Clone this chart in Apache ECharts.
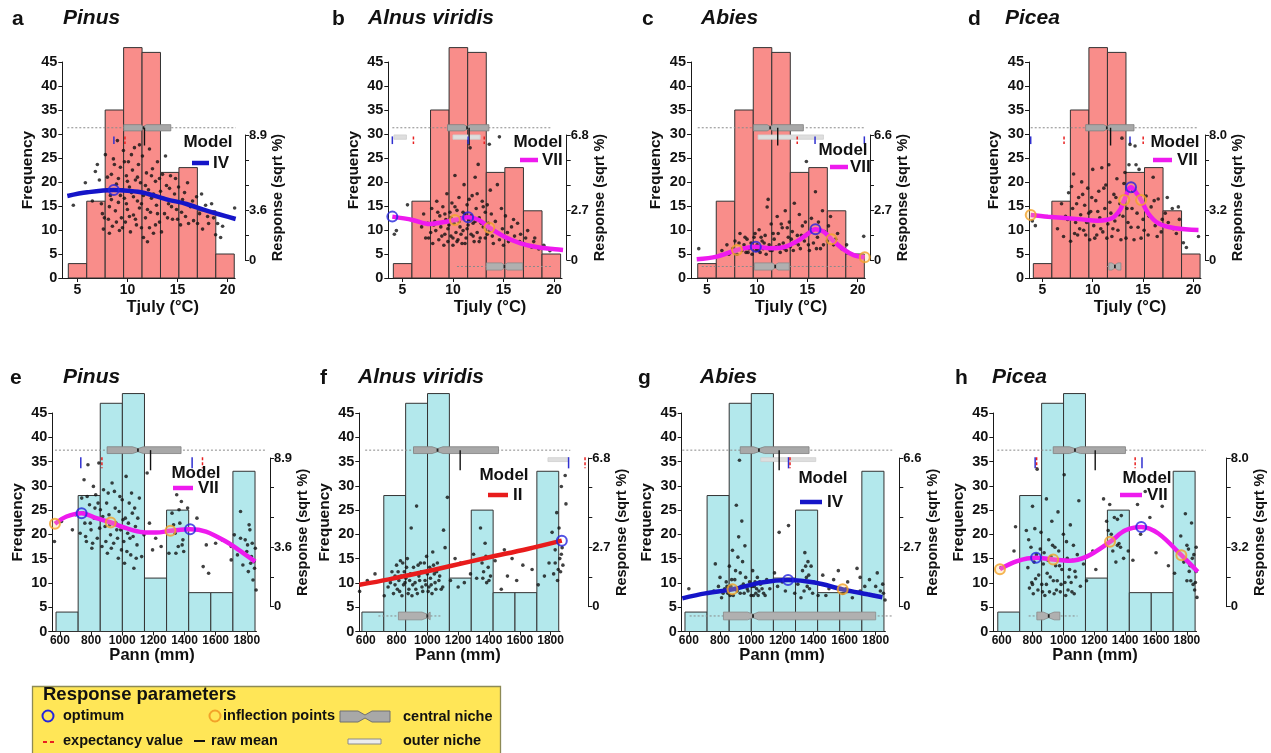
<!DOCTYPE html>
<html><head><meta charset="utf-8">
<script src="https://cdn.jsdelivr.net/npm/echarts@6/dist/echarts.min.js"></script>
<style>html,body{margin:0;padding:0;background:#fff;}#c{width:1271px;height:753px;}</style>
</head><body><div id="c"></div>
<script>
// ================= DATA =================
const tjulyEdges = [4.1, 5.94, 7.78, 9.62, 11.46, 13.3, 15.14, 16.98, 18.82, 20.66];
const tjulyCounts = [3, 16, 35, 48, 47, 22, 23, 14, 5];
const pannEdges = [575, 717, 859, 1001, 1143, 1285, 1427, 1569, 1711, 1853];
const pannCounts = [4, 28, 47, 49, 11, 25, 8, 8, 33];
const tjulyTicks = [5, 10, 15, 20];
const pannTicks = [600, 800, 1000, 1200, 1400, 1600, 1800];
const panelLetters = ['a','b','c','d','e','f','g','h'];
const taxa = ['Pinus','Alnus viridis','Abies','Picea','Pinus','Alnus viridis','Abies','Picea'];
const xNames = ['Tjuly (°C)','Pann (mm)'];
const respMax = [8.9, 6.8, 6.6, 8.0, 8.9, 6.8, 6.6, 8.0];
const respLabels = [['0','3.6','8.9'],['0','2.7','6.8'],['0','2.7','6.6'],['0','3.2','8.0'],['0','3.6','8.9'],['0','2.7','6.8'],['0','2.7','6.6'],['0','3.2','8.0']];
const modelTypes = ['IV','VII','VII','VII','VII','II','IV','VII'];

// observed samples (x, response in sqrt %)
const scatterA = [[4.6,3.9],[5.8,5.5],[6.5,4.2],[6.8,6.3],[7.0,6.8],[7.2,5.7],[7.4,4.0],[7.5,3.3],[7.6,2.2],[7.8,7.5],[7.9,5.0],[8.1,2.9],[8.2,3.8],[8.3,4.6],[8.4,6.1],[8.5,2.4],[8.6,7.2],[8.8,3.5],[8.9,5.4],[9.0,8.5],[9.1,4.1],[9.2,2.1],[9.3,6.6],[9.4,3.0],[9.5,5.0],[9.6,7.8],[9.7,4.4],[9.8,2.7],[9.9,6.0],[10.0,3.6],[10.1,7.0],[10.2,5.2],[10.3,2.0],[10.4,4.8],[10.5,6.4],[10.6,3.2],[10.7,8.0],[10.8,5.7],[10.9,2.5],[11.0,4.2],[11.1,6.8],[11.2,3.7],[11.3,5.5],[11.4,2.3],[11.5,7.4],[11.6,4.6],[11.8,3.0],[11.9,6.2],[12.0,1.3],[12.1,5.0],[12.2,7.9],[12.3,3.4],[12.4,4.4],[12.5,6.5],[12.6,1.9],[12.8,5.6],[12.9,3.9],[13.0,7.0],[13.2,2.7],[13.3,4.9],[13.5,6.1],[13.7,3.3],[13.9,5.3],[14.1,4.0],[14.3,6.0],[14.5,2.9],[14.7,4.7],[14.9,3.6],[15.1,5.2],[15.3,2.5],[15.5,4.3],[15.8,3.1],[16.0,5.5],[16.3,3.8],[16.6,2.8],[16.9,4.5],[17.2,3.3],[17.5,2.2],[17.8,3.9],[18.1,2.6],[18.4,4.0],[18.8,1.8],[19.0,2.6],[19.3,1.6],[20.7,3.7],
  [7.7,3.0],[8.0,5.9],[8.2,1.9],[8.4,4.3],[8.7,6.8],[8.9,2.7],[9.1,5.8],[9.3,4.6],[9.5,2.3],[9.7,7.0],[9.9,4.0],[10.0,5.6],[10.2,3.1],[10.4,7.5],[10.6,4.5],[10.8,2.9],[11.0,5.9],[11.2,8.2],[11.4,4.0],[11.6,1.6],[11.8,5.3],[12.0,3.6],[12.2,2.3],[12.4,6.0],[12.6,4.7],[12.8,2.5],[13.0,3.3],[13.2,5.8],[13.4,2.0],[13.6,4.4],[13.8,7.4],[14.0,3.0],[14.2,5.1],[14.4,3.8],[14.8,5.8],[15.0,2.9],[15.4,3.4],[15.7,4.8],[16.1,2.6],[16.5,4.2],[17.0,2.6],[17.4,4.7],[18.0,3.1],[18.6,3.0],[19.5,2.4]];
const scatterB = [[4.2,1.4],[4.4,1.6],[5.5,3.0],[6.9,1.8],[7.1,2.5],[7.3,1.2],[7.5,2.0],[7.8,1.5],[7.9,2.8],[8.0,0.9],[8.2,2.1],[8.3,1.6],[8.4,3.2],[8.6,1.1],[8.7,2.4],[8.8,1.8],[9.0,2.9],[9.1,0.8],[9.2,1.4],[9.3,2.2],[9.4,3.6],[9.5,1.0],[9.6,1.9],[9.7,2.6],[9.8,1.3],[9.9,3.1],[10.0,0.8],[10.1,2.0],[10.2,4.6],[10.3,1.5],[10.4,2.7],[10.5,1.1],[10.6,3.4],[10.7,1.8],[10.8,2.3],[10.9,0.9],[11.0,1.6],[11.1,4.1],[11.2,2.5],[11.3,1.2],[11.4,3.0],[11.5,1.9],[11.6,2.2],[11.7,6.1],[11.8,1.4],[11.9,3.5],[12.0,2.0],[12.1,1.0],[12.2,4.5],[12.3,2.8],[12.4,1.5],[12.5,5.2],[12.6,2.3],[12.7,1.2],[12.9,3.2],[13.0,1.8],[13.2,2.6],[13.4,1.4],[13.5,2.0],[13.6,6.3],[13.7,3.8],[13.9,1.3],[14.2,2.1],[14.4,4.1],[14.6,1.1],[14.6,6.7],[14.9,1.7],[15.2,2.4],[15.5,1.0],[15.8,1.8],[16.1,1.3],[16.4,2.0],[16.7,1.4],[17.0,0.9],[17.4,1.6],[17.8,0.7],[18.1,1.2],[18.5,0.6],[19.0,0.8],[19.6,0.5],
  [7.6,1.2],[8.1,1.9],[8.5,2.6],[8.9,1.3],[9.2,2.5],[9.5,1.7],[9.8,2.3],[10.0,1.2],[10.2,2.9],[10.4,1.0],[10.6,2.1],[10.8,1.4],[11.0,2.6],[11.2,0.9],[11.4,1.7],[11.6,3.3],[11.8,2.4],[12.0,1.3],[12.2,2.1],[12.4,3.6],[12.6,1.0],[12.8,2.0],[13.0,2.9],[13.2,1.2],[13.4,3.0],[13.6,1.6],[13.8,2.5],[14.0,0.9],[14.4,1.5],[14.8,2.8],[15.0,0.8],[15.4,1.5],[16.0,2.2],[16.6,1.0],[17.2,1.2],[18.0,1.0]];
const scatterC = [[4.2,0.6],[6.5,0.5],[7.0,0.8],[7.2,0.3],[7.6,0.6],[7.8,1.0],[8.0,0.3],[8.2,0.9],[8.3,1.4],[8.5,0.5],[8.7,0.8],[8.9,0.4],[9.0,1.1],[9.2,0.6],[9.4,0.9],[9.5,0.3],[9.7,1.2],[9.9,0.5],[10.0,0.8],[10.2,1.6],[10.3,0.4],[10.5,1.0],[10.6,0.6],[10.8,1.3],[10.9,0.3],[11.0,2.8],[11.1,3.2],[11.2,0.8],[11.4,1.9],[11.5,0.5],[11.7,1.1],[11.9,0.7],[12.0,2.3],[12.1,1.4],[12.3,0.4],[12.5,1.7],[12.6,0.9],[12.8,2.6],[12.9,0.5],[13.1,1.2],[13.2,2.0],[13.3,0.7],[13.5,1.5],[13.7,3.0],[13.8,0.9],[14.0,1.3],[14.2,2.4],[14.3,0.6],[14.5,1.8],[14.7,1.0],[14.9,5.2],[15.0,1.4],[15.2,0.5],[15.4,2.2],[15.6,0.9],[15.8,3.6],[16.0,1.2],[16.1,2.0],[16.3,0.6],[16.5,2.6],[16.7,1.5],[17.0,1.0],[17.3,2.3],[17.6,0.8],[18.0,1.4],[18.4,0.6],[18.9,0.8],[20.6,1.25],
  [8.4,0.6],[8.8,1.2],[9.1,0.4],[9.6,0.7],[9.8,1.4],[10.1,0.5],[10.4,1.2],[10.7,0.9],[11.3,0.5],[11.6,1.4],[12.2,0.8],[12.4,1.9],[12.7,0.6],[13.0,1.7],[13.4,1.1],[13.6,0.5],[14.1,0.8],[14.4,1.3],[14.8,2.0],[15.1,0.8],[15.5,1.6],[15.9,0.6],[16.2,1.6],[16.6,0.8],[17.1,1.8],[17.8,1.1]];
const scatterD = [[4.0,2.5],[4.3,2.2],[6.5,2.0],[6.9,3.6],[7.1,1.5],[7.3,2.8],[7.6,4.3],[7.8,1.2],[8.0,3.3],[8.1,5.5],[8.3,2.4],[8.5,1.6],[8.6,4.0],[8.8,2.9],[8.9,5.0],[9.1,1.9],[9.2,3.5],[9.4,2.4],[9.5,4.6],[9.7,1.3],[9.8,3.1],[10.0,5.8],[10.1,2.2],[10.3,3.8],[10.4,1.6],[10.6,4.4],[10.7,2.7],[10.9,5.9],[11.0,1.8],[11.2,3.3],[11.3,4.8],[11.5,2.3],[11.6,6.1],[11.8,3.0],[11.9,1.5],[12.1,4.2],[12.2,2.5],[12.4,5.2],[12.5,1.9],[12.7,3.6],[12.9,7.8],[13.0,2.8],[13.1,4.9],[13.3,1.4],[13.4,3.3],[13.6,6.1],[13.7,7.4],[13.8,2.1],[14.0,4.4],[14.1,1.3],[14.2,7.3],[14.4,3.0],[14.6,5.8],[14.8,1.4],[15.0,2.6],[15.3,4.1],[15.5,1.6],[15.8,3.4],[16.0,5.3],[16.2,2.2],[16.5,3.9],[16.8,1.8],[17.2,3.0],[17.5,2.4],[17.9,3.3],[18.3,1.7],[18.6,2.6],[19.0,1.1],[19.3,0.8],[20.5,1.5],
  [7.5,2.6],[7.9,4.7],[8.2,1.7],[8.4,3.6],[8.7,2.0],[9.0,4.2],[9.3,1.6],[9.6,3.0],[9.9,4.0],[10.2,1.4],[10.5,3.1],[10.8,2.0],[11.1,4.6],[11.4,1.4],[11.7,3.7],[12.0,2.0],[12.3,4.0],[12.6,2.9],[12.8,1.3],[13.2,5.6],[13.5,2.4],[13.9,3.3],[14.3,6.1],[14.5,2.1],[14.7,4.0],[15.1,1.9],[15.6,2.8],[16.1,3.8],[16.4,1.5],[16.9,2.6],[17.4,4.0],[18.0,2.0],[18.5,3.4]];
const scatterE = [[565,3.9],[610,5.1],[680,4.6],[700,5.5],[730,4.4],[740,6.5],[755,7.6],[760,5.0],[770,3.9],[780,8.5],[790,6.1],[800,4.6],[805,3.5],[815,7.2],[820,5.3],[830,6.7],[840,4.1],[850,8.6],[860,5.8],[870,3.6],[880,7.0],[890,4.8],[900,6.2],[905,3.2],[915,5.5],[925,4.3],[935,7.4],[945,3.8],[955,5.9],[965,4.6],[975,2.9],[985,6.6],[995,3.4],[1005,5.2],[1015,2.6],[1025,7.8],[1035,4.4],[1045,6.2],[1055,3.1],[1065,5.6],[1075,2.3],[1085,4.8],[1095,3.7],[1110,6.5],[1125,3.0],[1140,4.3],[1160,8.0],[1175,5.0],[1195,3.4],[1215,4.1],[1250,3.6],[1300,3.2],[1320,5.6],[1340,4.4],[1350,6.7],[1360,3.6],[1370,5.0],[1380,6.3],[1390,4.0],[1395,3.3],[1420,5.9],[1480,5.3],[1520,2.4],[1540,3.7],[1555,2.0],[1600,3.8],[1640,4.0],[1700,2.8],[1720,4.3],[1740,3.1],[1760,5.7],[1775,2.5],[1790,4.0],[1800,3.3],[1810,2.1],[1820,4.6],[1830,3.0],[1840,1.6],[1845,2.7],[1855,3.5],[1860,1.0],
  [750,5.6],[765,4.2],[775,6.6],[795,5.0],[810,3.8],[825,5.9],[845,6.2],[855,4.7],[875,5.4],[895,3.9],[910,6.8],[920,4.9],[930,3.5],[950,6.9],[960,5.0],[970,4.1],[980,5.7],[990,4.6],[1000,6.4],[1010,3.9],[1020,5.3],[1030,3.3],[1040,5.0],[1050,4.1],[1060,6.8],[1070,4.2],[1080,5.9],[1090,2.9],[1100,5.3],[1330,4.9],[1345,3.2],[1365,5.8],[1385,3.7],[1805,3.7],[1815,4.9],[1825,2.6],[1835,3.8],[1850,2.3],[1760,4.1],[1700,3.6]];
const scatterF = [[560,0.7],[610,1.2],[660,1.5],[720,0.5],[745,0.9],[760,1.1],[770,1.6],[780,0.6],[790,1.4],[800,1.9],[805,0.8],[815,1.2],[825,2.1],[835,0.5],[845,1.0],[850,1.6],[860,1.3],[870,2.2],[880,0.8],[890,1.5],[895,3.6],[900,0.5],[910,1.8],[920,1.1],[930,4.6],[935,0.6],[945,1.4],[955,2.0],[965,0.9],[975,1.6],[985,1.2],[995,2.3],[1005,0.7],[1015,1.8],[1025,1.0],[1035,2.5],[1045,1.5],[1055,0.8],[1065,2.0],[1075,1.2],[1090,0.8],[1105,3.5],[1115,2.7],[1130,5.0],[1150,1.2],[1180,2.2],[1200,0.9],[1215,2.0],[1240,1.1],[1280,1.5],[1300,2.4],[1320,1.3],[1345,3.6],[1355,2.0],[1365,1.6],[1375,2.9],[1385,1.1],[1395,1.8],[1410,1.4],[1440,2.1],[1480,0.8],[1500,2.6],[1520,1.4],[1550,2.2],[1580,1.2],[1620,1.9],[1680,1.7],[1720,1.0],[1760,1.4],[1790,2.0],[1810,3.4],[1820,1.5],[1830,2.6],[1840,4.3],[1845,1.2],[1850,3.0],[1860,2.2],[1865,1.6],[1870,5.5],[1875,2.7],[1880,1.9],[1895,6.0],[1900,4.7],
  [790,1.0],[810,1.6],[820,0.7],[830,1.4],[840,2.0],[855,1.1],[865,1.8],[875,0.6],[885,1.2],[905,1.0],[915,1.5],[925,0.8],[940,1.9],[950,1.2],[960,1.6],[970,0.7],[980,2.0],[990,1.0],[1000,1.5],[1010,0.9],[1020,1.3],[1030,0.6],[1040,1.9],[1050,1.1],[1060,1.6],[1080,1.4],[1100,0.9],[1360,1.3],[1380,2.3],[1400,1.2],[1830,2.0],[1850,1.7],[1855,3.6],[1870,2.4]];
const scatterG = [[600,0.8],[760,0.7],[770,1.9],[790,0.9],[800,1.3],[810,0.4],[830,0.8],[840,1.1],[850,0.6],[860,1.8],[870,0.9],[880,2.5],[885,0.5],[895,1.2],[905,4.5],[910,0.7],[915,2.2],[920,3.1],[925,6.5],[930,1.5],[935,0.9],[940,3.8],[945,2.0],[955,0.6],[965,1.3],[975,0.8],[990,1.1],[1000,0.5],[1010,1.6],[1020,0.9],[1030,0.6],[1040,1.3],[1050,0.7],[1060,1.0],[1080,0.6],[1100,1.2],[1120,0.8],[1150,1.5],[1170,0.9],[1180,3.3],[1200,1.1],[1220,0.7],[1240,3.6],[1260,1.2],[1280,0.6],[1300,1.0],[1320,0.4],[1330,1.6],[1345,2.4],[1355,1.3],[1365,2.0],[1375,0.8],[1385,1.8],[1400,1.1],[1430,0.5],[1460,1.4],[1500,0.8],[1530,1.2],[1560,1.6],[1590,0.6],[1620,1.1],[1650,0.4],[1680,1.7],[1700,0.7],[1730,0.9],[1760,1.2],[1790,0.5],[1810,1.5],[1830,0.7],[1845,1.0],[1860,0.3],
  [820,0.6],[845,0.9],[865,0.5],[875,1.2],[890,0.8],[900,1.6],[930,0.6],[950,1.0],[960,2.7],[980,0.7],[1005,0.9],[1015,0.5],[1025,1.1],[1035,0.8],[1045,0.5],[1055,1.1],[1070,0.8],[1090,0.5],[1340,0.7],[1350,1.8],[1360,0.9],[1370,1.4],[1395,0.6],[1440,1.0],[1480,0.5],[1610,0.8],[1700,1.3],[1800,0.9],[1850,0.6]];
const scatterH = [[595,2.1],[680,3.0],[690,4.3],[760,4.1],[770,2.1],[780,1.0],[790,3.2],[795,1.3],[800,5.4],[805,0.7],[810,2.4],[820,1.5],[830,7.4],[835,0.9],[850,3.1],[860,1.2],[870,2.3],[880,0.6],[890,5.8],[895,1.8],[905,3.6],[910,0.8],[920,2.7],[925,4.6],[935,1.4],[945,3.2],[955,0.9],[965,5.1],[975,2.2],[985,1.2],[1000,3.9],[1005,7.1],[1015,0.6],[1025,2.6],[1035,1.6],[1045,4.4],[1055,0.8],[1065,3.3],[1075,1.9],[1090,2.8],[1100,5.7],[1110,1.1],[1130,2.3],[1150,1.4],[1190,3.0],[1210,2.0],[1260,5.8],[1280,4.6],[1300,5.5],[1320,3.0],[1340,2.4],[1350,4.7],[1360,3.4],[1375,4.9],[1390,2.6],[1420,3.0],[1450,2.5],[1480,5.5],[1500,3.9],[1530,6.2],[1560,4.8],[1600,2.9],[1640,5.4],[1680,2.2],[1720,1.8],[1760,3.8],[1780,2.4],[1790,5.0],[1800,1.4],[1810,3.1],[1820,2.2],[1830,4.5],[1840,1.2],[1845,2.8],[1850,0.9],[1860,1.9],[1865,0.5],
  [775,3.6],[790,2.6],[800,1.2],[815,4.2],[825,2.8],[840,1.7],[855,4.0],[865,0.8],[875,2.9],[890,1.2],[900,2.5],[915,1.6],[930,3.3],[940,0.7],[950,2.2],[960,1.4],[970,3.0],[980,0.8],[990,2.0],[1010,1.3],[1020,3.5],[1030,0.9],[1040,2.0],[1050,1.3],[1060,2.5],[1070,0.7],[1080,1.6],[1290,4.1],[1310,3.9],[1330,4.8],[1350,3.3],[1370,3.2],[1800,3.3],[1815,1.9],[1825,1.4],[1835,2.6],[1855,1.3],[1860,3.2]];

// fitted response curves (x, sqrt %)
const curveA = [[4.0,4.56],[6.0,4.82],[8.64,4.98],[10.0,4.93],[11.6,4.79],[13.9,4.32],[15.9,3.99],[17.9,3.51],[20.8,2.92]];
const curveB = [[4.0,2.36],[6.0,2.18],[7.7,1.96],[9.0,2.05],[10.2,2.18],[11.5,2.32],[12.55,2.18],[13.6,1.76],[15.1,1.27],[16.7,0.91],[18.4,0.69],[20.1,0.58],[20.9,0.54]];
const curveC = [[4.0,0.04],[6.0,0.18],[8.0,0.53],[9.87,0.70],[11.3,0.62],[12.6,0.67],[13.9,0.97],[14.9,1.32],[15.8,1.62],[16.6,1.50],[17.4,1.09],[18.6,0.56],[19.6,0.26],[20.7,0.14]];
const curveD = [[3.84,2.88],[5.56,2.77],[8.9,2.60],[10.5,2.52],[11.9,2.67],[12.7,3.2],[13.13,3.84],[13.8,4.65],[14.36,4.27],[14.8,3.84],[15.5,2.99],[16.5,2.35],[18.2,2.03],[20.5,1.92]];
const curveE = [[568,4.96],[643,5.4],[739,5.6],[834,5.3],[926,5.04],[1026,4.7],[1133,4.46],[1218,4.44],[1310,4.54],[1436,4.64],[1538,4.5],[1666,3.9],[1773,3.24],[1854,2.7]];
const curveF = [[559,1.0],[750,1.25],[953,1.55],[1150,1.86],[1386,2.24],[1650,2.64],[1873,3.02]];
const curveG = [[558,0.37],[706,0.59],[880,0.77],[1067,1.07],[1237,1.18],[1407,1.07],[1588,0.77],[1747,0.55],[1843,0.42]];
const curveH = [[589,2.02],[700,2.45],[823,2.63],[934,2.54],[1040,2.47],[1147,2.68],[1302,3.49],[1402,4.11],[1504,4.29],[1615,3.94],[1764,2.77],[1870,1.88]];

const optimaA = [[8.64,4.98]];
const optimaB = [[4.0,2.36],[11.5,2.32]];
const optimaC = [[9.87,0.70],[15.8,1.62]];
const optimaD = [[13.8,4.65]];
const optimaE = [[739,5.6],[1436,4.64]];
const optimaF = [[1873,3.02]];
const optimaG = [[1237,1.18]];
const optimaH = [[823,2.63],[1504,4.29]];
const inflA = [];
const inflB = [[10.2,2.18],[13.6,1.76]];
const inflC = [[8.0,0.53],[17.4,1.09],[20.7,0.14]];
const inflD = [[3.84,2.88],[13.13,3.84],[14.8,3.84]];
const inflE = [[568,4.96],[926,5.04],[1310,4.54]];
const inflF = [];
const inflG = [[880,0.77],[1588,0.77]];
const inflH = [[589,2.02],[934,2.54],[1302,3.49],[1764,2.77]];

// niches: [lower whisker, q1, median, q3, upper whisker]
const centralNiche = [[4.0,9.63,11.6,14.33,20.8],[4.0,9.46,11.4,13.56,19.8],[4.1,9.64,11.3,14.6,20.7],[3.84,9.3,11.4,14.1,20.5],[568,903,1101,1378,1922],[596,910,1066,1462,1928],[558,930,1050,1372,1906],[572,934,1075,1402,1923]];
const absenceNiche = [null,[10.4,13.3,15.1,16.9,19.8],[4.5,9.73,11.8,13.2,19.4],[11.4,11.6,12.2,12.8,13.0],null,[682,812,1000,1018,1094],[605,822,1012,1800,1910],[775,828,905,977,1091]];
const outerNiche = [[],[[4.16,5.4],[10.0,12.7]],[[10.1,16.6]],[],[],[[1783,1917]],[[1062,1415]],[]];
const rawMean = [11.7,11.6,12.05,11.77,1182,1213,1180,1206];
const optimumMarks = [[8.65],[4.0,11.5],[15.76,20.66],[3.84,13.7],[734,1449],[1917],[1240],[817,1509]];
const expectancyMarks = [[9.6],[5.94,12.95],[13.84],[7.0,14.86],[860,1506],[2014],[1240],[817,1455]];

// ================= LAYOUT / STYLE =================
const FONT = '"Liberation Sans", Arial, Helvetica, sans-serif';
const rows = [
  {gTop:62, gH:216, rTop:135, rH:125, whisk:31.3, boxH:0.65, outerC:29.35, outerH:0.45, tickLo:27.9, tickHi:29.5, meanLo:27.6, absY:2.4, absH:0.75, notch:0.3, labM:5, labS:14, nameY:307, titleY:20, fill:'#f98d8a'},
  {gTop:413, gH:218.5, rTop:458, rH:148.7, whisk:37.35, boxH:0.7, outerC:35.4, outerH:0.4, tickLo:33.6, tickHi:35.9, meanLo:33.2, absY:3.2, absH:0.8, notch:35, labM:3, labS:12, nameY:655, titleY:379, fill:'#b3e8ec'}
];
const P = [
  {L:62.3, s:10.02, xmin:3.5, xmax:20.75, rAx:245, row:0, nameX:162.7, tl:[12,63], m:[208,142,192,209,163,213]},
  {L:388.3, s:10.1, xmin:3.6, xmax:20.8, rAx:566.7, row:0, nameX:490, tl:[332,368], m:[538,142,520,538,160,542]},
  {L:691, s:10.06, xmin:3.43, xmax:20.75, rAx:870, row:0, nameX:791, tl:[642,701], m:[843,150,830,848,167,850]},
  {L:1029, s:10.07, xmin:3.67, xmax:20.75, rAx:1205, row:0, nameX:1130, tl:[968,1005], m:[1175,142,1153,1172,160,1177]},
  {L:52.3, s:0.1557, xmin:551, xmax:1862, rAx:270, row:1, nameX:152, tl:[10,63], m:[196,473,173,193,488,198]},
  {L:359.3, s:0.154, xmin:558, xmax:1862, rAx:588.3, row:1, nameX:458, tl:[320,358], m:[504,475,488,508,495,513]},
  {L:681.7, s:0.1557, xmin:554, xmax:1862, rAx:899.3, row:1, nameX:782, tl:[638,700], m:[823,478,800,822,502,827]},
  {L:993.3, s:0.1544, xmin:546, xmax:1862, rAx:1226.7, row:1, nameX:1095, tl:[955,992], m:[1147,478,1120,1142,495,1147]}
];
const scatters = [scatterA,scatterB,scatterC,scatterD,scatterE,scatterF,scatterG,scatterH];
const curves = [curveA,curveB,curveC,curveD,curveE,curveF,curveG,curveH];
const optima = [optimaA,optimaB,optimaC,optimaD,optimaE,optimaF,optimaG,optimaH];
const infl = [inflA,inflB,inflC,inflD,inflE,inflF,inflG,inflH];
const modelColor = {IV:'#1515c8', VII:'#ee1aee', II:'#e81c1c'};

const grid=[], xAxis=[], yAxis=[], series=[], graphic=[];
const axisCol = '#1a1a1a';

function nicheRenderer(i, r){
  return function(params, api){
    const X = v => api.coord([v, 0])[0];
    const Y = f => api.coord([centralNiche[i][2], f])[1];
    const kids = [];
    const box = (arr, yc, h, fill, stroke) => {
      const [lo,q1,md,q3,hi] = arr;
      kids.push({type:'line', shape:{x1:X(lo),y1:Y(yc),x2:X(hi),y2:Y(yc)}, style:{stroke:'#8a8a8a',lineWidth:1,lineDash:[2,2]}});
      const nl = Math.max(q1, md - r.notch), nh = Math.min(q3, md + r.notch);
      const pts = [[X(q1),Y(yc+h)],[X(nl),Y(yc+h)],[X(md),Y(yc+h*0.45)],[X(nh),Y(yc+h)],[X(q3),Y(yc+h)],[X(q3),Y(yc-h)],[X(nh),Y(yc-h)],[X(md),Y(yc-h*0.45)],[X(nl),Y(yc-h)],[X(q1),Y(yc-h)]];
      kids.push({type:'polygon', shape:{points:pts}, style:{fill:fill, stroke:stroke, lineWidth:0.8}});
      kids.push({type:'line', shape:{x1:X(md),y1:Y(yc+h*0.45),x2:X(md),y2:Y(yc-h*0.45)}, style:{stroke:'#222',lineWidth:1.8}});
    };
    box(centralNiche[i], r.whisk, r.boxH, '#a8a8a8', '#808080');
    if (absenceNiche[i]) box(absenceNiche[i], r.absY, r.absH, '#b0b0b0', '#8a8a8a');
    outerNiche[i].forEach(seg => {
      kids.push({type:'rect', shape:{x:X(seg[0]), y:Y(r.outerC + r.outerH), width:X(seg[1])-X(seg[0]), height:Y(r.outerC - r.outerH)-Y(r.outerC + r.outerH)}, style:{fill:'#dedede', stroke:'#cfcfcf', lineWidth:0.8}});
    });
    kids.push({type:'line', shape:{x1:X(rawMean[i]),y1:Y(r.whisk),x2:X(rawMean[i]),y2:Y(r.meanLo)}, style:{stroke:'#111',lineWidth:1.4}});
    optimumMarks[i].forEach(v => kids.push({type:'line', shape:{x1:X(v),y1:Y(r.tickHi),x2:X(v),y2:Y(r.tickLo)}, style:{stroke:'#3030d0',lineWidth:1.5}}));
    expectancyMarks[i].forEach(v => kids.push({type:'line', shape:{x1:X(v)+1.5,y1:Y(r.tickHi),x2:X(v)+1.5,y2:Y(r.tickLo)}, style:{stroke:'#e82020',lineWidth:1.5,lineDash:[3,2]}}));
    return {type:'group', children:kids};
  };
}

P.forEach((p, i) => {
  const r = rows[p.row];
  const gi = 2*i;
  const top = respMax[i];
  const xmaxR = p.xmin + (p.rAx - p.L)/p.s;
  const ticks = p.row === 0 ? tjulyTicks : pannTicks;
  grid.push({left:p.L, top:r.gTop, width:(p.xmax-p.xmin)*p.s, height:r.gH, containLabel:false, outerBoundsMode:'none'});
  grid.push({left:p.L, top:r.rTop, width:p.rAx-p.L, height:r.rH, containLabel:false, outerBoundsMode:'none'});
  xAxis.push({gridIndex:gi, type:'value', min:p.xmin, max:p.xmax,
    axisLine:{show:true,onZero:false,lineStyle:{color:axisCol,width:1}},
    axisTick:{show:true,length:4,customValues:ticks,lineStyle:{color:axisCol}},
    axisLabel:{customValues:ticks,margin:r.labM,fontFamily:FONT,fontWeight:'bold',fontSize:r.labS,color:'#111',formatter:v=>String(v)},
    splitLine:{show:false}});
  xAxis.push({gridIndex:gi+1, type:'value', min:p.xmin, max:xmaxR, show:false});
  yAxis.push({gridIndex:gi, type:'value', min:0, max:45, interval:5, position:'left',
    name:'Frequency', nameLocation:'middle', nameGap:27, nameRotate:90,
    nameTextStyle:{fontFamily:FONT,fontWeight:'bold',fontSize:15.5,color:'#111'},
    axisLine:{show:true,lineStyle:{color:axisCol,width:1}},
    axisTick:{show:true,length:4,lineStyle:{color:axisCol}},
    axisLabel:{margin:5,fontFamily:FONT,fontWeight:'bold',fontSize:14.5,color:'#111'},
    splitLine:{show:false}});
  const rt = [0,1,2,3,4,5].map(k => top*k/5);
  const rl = [0, top*2/5, top];
  yAxis.push({gridIndex:gi+1, type:'value', min:0, max:top, position:'right',
    name:'Response (sqrt %)', nameLocation:'middle', nameGap:24, nameRotate:90,
    nameTextStyle:{fontFamily:FONT,fontWeight:'bold',fontSize:14.5,color:'#111'},
    axisLine:{show:true,lineStyle:{color:axisCol,width:1}},
    axisTick:{show:true,length:4,customValues:rt,lineStyle:{color:axisCol}},
    axisLabel:{customValues:rl,margin:4,fontFamily:FONT,fontWeight:'bold',fontSize:13,color:'#111',
      formatter:(v)=>{let b=0,bd=1e9;rl.forEach((q,k)=>{const d=Math.abs(q-v);if(d<bd){bd=d;b=k;}});return respLabels[i][b];}},
    splitLine:{show:false}});

  const edges = p.row===0 ? tjulyEdges : pannEdges;
  const counts = p.row===0 ? tjulyCounts : pannCounts;
  series.push({type:'custom', xAxisIndex:gi, yAxisIndex:gi, z:1, clip:false,
    data: counts.map((c,k)=>[edges[k], edges[k+1], c]),
    encode:{x:[0,1], y:2},
    renderItem:(params, api)=>{
      const a = api.coord([api.value(0), 0]), b = api.coord([api.value(1), api.value(2)]);
      return {type:'rect', shape:{x:a[0], y:b[1], width:b[0]-a[0], height:a[1]-b[1]}, style:{fill:r.fill, stroke:'#333', lineWidth:1}};
    }});
  series.push({type:'custom', xAxisIndex:gi, yAxisIndex:gi, z:2, clip:false,
    data:[[centralNiche[i][2], r.whisk]], encode:{x:0,y:1}, renderItem:nicheRenderer(i, r)});
  series.push({type:'scatter', xAxisIndex:gi+1, yAxisIndex:gi+1, z:3, clip:false, data:scatters[i],
    symbol:'circle', symbolSize:3.6, itemStyle:{color:'#111'}, silent:true});
  const col = modelColor[modelTypes[i]];
  series.push({type:'line', xAxisIndex:gi+1, yAxisIndex:gi+1, z:4, clip:false, data:curves[i], smooth:0.35,
    symbol:'none', lineStyle:{color:col, width:4.5}, silent:true});
  series.push({type:'scatter', xAxisIndex:gi+1, yAxisIndex:gi+1, z:5, clip:false, data:infl[i], symbol:'circle', symbolSize:10,
    itemStyle:{color:'rgba(255,210,120,0.35)', borderColor:'#f2a229', borderWidth:2}, silent:true});
  series.push({type:'scatter', xAxisIndex:gi+1, yAxisIndex:gi+1, z:6, clip:false, data:optima[i], symbol:'circle', symbolSize:10,
    itemStyle:{color:'rgba(0,0,0,0)', borderColor:'#2424dd', borderWidth:2}, silent:true});

  graphic.push({type:'text', left:p.tl[0], top:r.titleY-11, style:{text:panelLetters[i], font:'bold 21px '+FONT, fill:'#111'}});
  graphic.push({type:'text', left:p.tl[1], top:r.titleY-12, style:{text:taxa[i], font:'italic bold 21px '+FONT, fill:'#111'}});
  graphic.push({type:'text', x:p.nameX, y:r.nameY, style:{text:xNames[p.row], font:'bold 16.5px '+FONT, fill:'#111', align:'center', verticalAlign:'middle'}});
  const m = p.m;
  graphic.push({type:'text', x:m[0], y:m[1], z:10, style:{text:'Model', font:'bold 17px '+FONT, fill:'#111', align:'center', verticalAlign:'middle'}});
  graphic.push({type:'line', z:10, shape:{x1:m[2], y1:m[4], x2:m[3], y2:m[4]}, style:{stroke:col, lineWidth:4.5}});
  graphic.push({type:'text', x:m[5], y:m[4], z:10, style:{text:modelTypes[i], font:'bold 17px '+FONT, fill:'#111', align:'left', verticalAlign:'middle'}});
});

const lg = [
  {type:'rect', shape:{x:32.5, y:686.5, width:468, height:70}, style:{fill:'#ffe657', stroke:'#8d8a55', lineWidth:1.3}},
  {type:'text', x:43, y:695, style:{text:'Response parameters', font:'bold 18.5px '+FONT, fill:'#111', verticalAlign:'middle'}},
  {type:'circle', shape:{cx:48, cy:716, r:5.5}, style:{fill:'none', stroke:'#2424dd', lineWidth:2}},
  {type:'text', x:63, y:716, style:{text:'optimum', font:'bold 14.5px '+FONT, fill:'#111', verticalAlign:'middle'}},
  {type:'circle', shape:{cx:215, cy:716, r:5.5}, style:{fill:'none', stroke:'#f2a229', lineWidth:2}},
  {type:'text', x:223, y:716, style:{text:'inflection points', font:'bold 14.5px '+FONT, fill:'#111', verticalAlign:'middle'}},
  {type:'polygon', shape:{points:[[340,711],[358,711],[365,715],[372,711],[390,711],[390,722],[372,722],[365,718],[358,722],[340,722]]}, style:{fill:'#a8a8a8', stroke:'#707070', lineWidth:1}},
  {type:'text', x:403, y:717, style:{text:'central niche', font:'bold 14.5px '+FONT, fill:'#111', verticalAlign:'middle'}},
  {type:'line', shape:{x1:43, y1:742, x2:54, y2:742}, style:{stroke:'#e82020', lineWidth:2, lineDash:[4,3]}},
  {type:'text', x:63, y:741, style:{text:'expectancy value', font:'bold 14.5px '+FONT, fill:'#111', verticalAlign:'middle'}},
  {type:'line', shape:{x1:194, y1:741, x2:205, y2:741}, style:{stroke:'#111', lineWidth:2}},
  {type:'text', x:211, y:741, style:{text:'raw mean', font:'bold 14.5px '+FONT, fill:'#111', verticalAlign:'middle'}},
  {type:'rect', shape:{x:348, y:739, width:33, height:5}, style:{fill:'#ececec', stroke:'#8a8a8a', lineWidth:1}},
  {type:'text', x:403, y:741, style:{text:'outer niche', font:'bold 14.5px '+FONT, fill:'#111', verticalAlign:'middle'}}
];
lg.forEach(e => graphic.push(e));

const chart = echarts.init(document.getElementById('c'), null, {width:1271, height:753});
chart.setOption({animation:false, backgroundColor:'#ffffff', grid, xAxis, yAxis, series, graphic});
</script></body></html>
